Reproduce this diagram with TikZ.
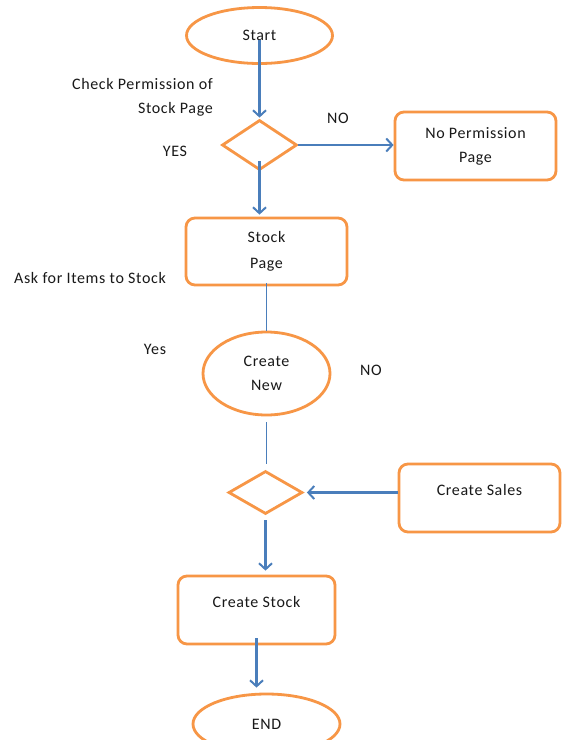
\documentclass[tikz,border=0pt]{standalone}
\usepackage{fontspec}
\setmainfont[LetterSpace=4]{Carlito}
\usetikzlibrary{shapes.geometric,arrows.meta}
\definecolor{flowor}{HTML}{F79646}
\definecolor{flowbl}{HTML}{4A7EBB}
\begin{document}
\begin{tikzpicture}[x=1pt,y=-1pt,
  every node/.style={font=\fontsize{16}{24}\selectfont, text=black!90},
  term/.style={ellipse, draw=flowor, line width=2.8pt, inner sep=0pt, align=center},
  box/.style={rectangle, rounded corners=9pt, draw=flowor, line width=2.8pt,
    minimum width=161pt, minimum height=68pt, align=center, inner sep=0pt},
  decide/.style={diamond, draw=flowor, line width=2.8pt, inner sep=0pt},
  flow/.style={draw=flowbl, line width=2.4pt,
    -{Straight Barb[length=6pt,width=13pt,line width=2pt]}},
  link/.style={draw=flowbl, line width=1pt},
  note/.style={inner sep=0pt, align=center}]

% canvas
\fill[white] (0,0) rectangle (564,740);
\useasboundingbox (0,0) rectangle (564,740);

% shapes
\node[term, minimum width=146pt, minimum height=56pt] (start) at (259.5,35.5) {Start};
\node[decide, minimum width=75pt, minimum height=50pt] (d1) at (259.5,145) {};
\node[box] (np) at (475.5,146) {No Permission\\Page};
\node[box, minimum height=67pt] (sp) at (266.5,251.5) {Stock\\[2pt]Page};
\node[term, minimum width=127pt, minimum height=83pt] (cn) at (266.5,373.5) {Create\\New};
\node[decide, minimum width=74pt, minimum height=43pt] (d2) at (265.5,492.5) {};
\node[box, text depth=17pt] (sales) at (479.5,498) {Create Sales};
\node[box, minimum width=157pt, text depth=17pt] (cst) at (256.5,610) {Create Stock};
\node[term, minimum width=147pt, minimum height=60pt] (end) at (266.5,724) {END};

% labels
\node[note, align=right, anchor=east] (lblchk) at (213,97) {Check Permission of\\Stock Page};
\node[note] (lblyes1) at (175,151) {YES};
\node[note] (lblno1) at (338,118) {NO};
\node[note, anchor=west] (lblask) at (14,278) {Ask for Items to Stock};
\node[note] (lblyes2) at (155,349) {Yes};
\node[note] (lblno2) at (371,370) {NO};

% connectors
\draw[flow, shorten >=1pt] ([yshift=-4pt]start.center) -- (d1.north);
\draw[flow] (d1.east) -- (d1.east -| np.west);
\draw[flow, shorten >=2pt] ([yshift=10pt]d1.south) -- (d1.south |- sp.north);
\draw[link] ([yshift=3pt]sp.south) -- (cn.north);
\draw[link, shorten <=6pt, shorten >=6pt] (cn.south) -- (cn.south |- d2.north);
\draw[flow, shorten >=3pt] (sales.west |- d2.east) -- (d2.east);
\draw[flow, shorten >=4pt] ([yshift=-5pt]d2.south) -- (d2.south |- cst.north);
\draw[flow, shorten >=5pt] ([yshift=7pt]cst.south) -- (cst.south |- end.north);
\end{tikzpicture}
\end{document}
